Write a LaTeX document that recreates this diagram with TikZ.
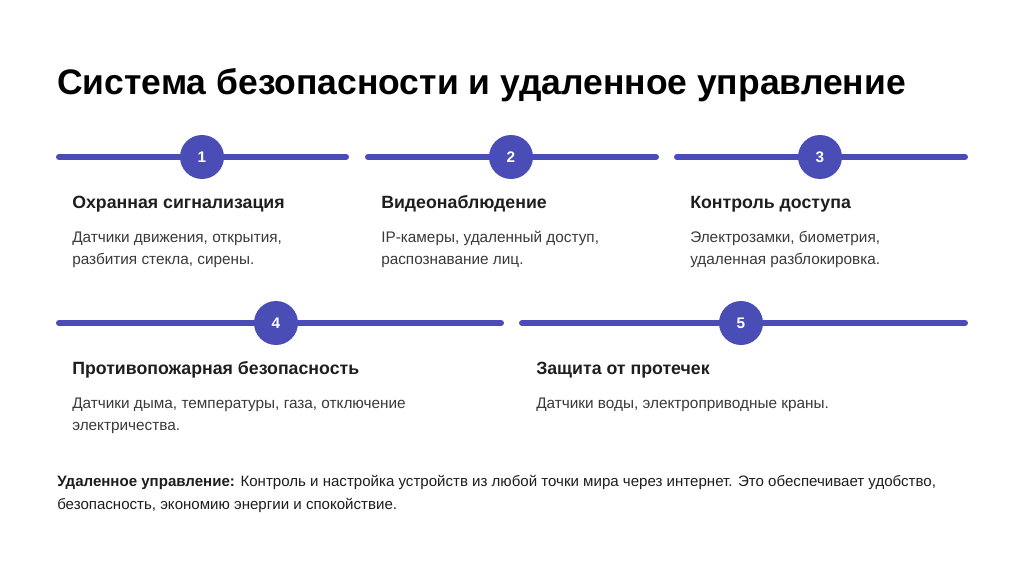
\documentclass[tikz,border=0pt]{standalone}
\usepackage{fontspec}
\setmainfont{Liberation Sans}
\usepackage{xcolor}
\definecolor{accent}{HTML}{4A4DB5}
\definecolor{ink}{HTML}{1E1E1E}
\definecolor{soft}{HTML}{3A3A3A}
\usepackage{tikz}
\usetikzlibrary{positioning}

\tikzset{
  bar/.style={accent, line width=4.5pt, line cap=round},
  badge/.style={circle, fill=accent, minimum size=33pt, inner sep=0pt,
    text=white, font=\fontsize{11.5}{13}\selectfont\bfseries},
  headtext/.style={anchor=base west, inner sep=0pt, text=ink,
    font=\fontsize{13.3}{15}\selectfont\bfseries},
  desctext/.style={anchor=base west, inner sep=0pt, text=soft, align=left,
    font=\fontsize{11.5}{16}\selectfont}
}

\begin{document}
\begin{tikzpicture}[x=0.75pt, y=-0.75pt]
  \useasboundingbox[fill=white] (0,0) rectangle (1024,574);

  % Titel
  \node[anchor=base west, inner sep=0pt, text=black,
        font=\fontsize{26.6}{30}\selectfont\bfseries] (title) at (57,95)
        {Система безопасности и удаленное управление};

  % obere Reihe: drei Balken mit Nummern
  \draw[bar] (59,157) -- (346,157);
  \draw[bar] (368,157) -- (656,157);
  \draw[bar] (677,157) -- (965,157);
  \node[badge] (n1) at (202,157) {1};
  \node[badge] (n2) at (511,157) {2};
  \node[badge] (n3) at (820,157) {3};

  \node[headtext] (h1) at (72,209) {Охранная сигнализация};
  \node[headtext] (h2) at (381,209) {Видеонаблюдение};
  \node[headtext] (h3) at (690,209) {Контроль доступа};

  % Anker = Grundlinie der letzten Zeile
  \node[desctext] (d1) at (72,264) {Датчики движения, открытия,\\разбития стекла, сирены.};
  \node[desctext] (d2) at (381,264) {IP-камеры, удаленный доступ,\\распознавание лиц.};
  \node[desctext] (d3) at (690,264) {Электрозамки, биометрия,\\удаленная разблокировка.};

  % untere Reihe: zwei Balken
  \draw[bar] (59,323) -- (501,323);
  \draw[bar] (522,323) -- (965,323);
  \node[badge] (n4) at (276,323) {4};
  \node[badge] (n5) at (741,323) {5};

  \node[headtext] (h4) at (72,374) {Противопожарная безопасность};
  \node[headtext] (h5) at (536,374) {Защита от протечек};

  \node[desctext] (d4) at (72,430) {Датчики дыма, температуры, газа, отключение\\электричества.};
  \node[desctext] (d5) at (536,408) {Датчики воды, электроприводные краны.};

  % Fusszeile
  \node[anchor=base west, inner sep=0pt, text=ink, align=left,
        font=\fontsize{11.3}{17}\selectfont] (note) at (57,509)
        {\textbf{Удаленное управление:} Контроль и настройка устройств из любой точки мира через интернет. Это обеспечивает удобство,\\
         безопасность, экономию энергии и спокойствие.};
\end{tikzpicture}
\end{document}
